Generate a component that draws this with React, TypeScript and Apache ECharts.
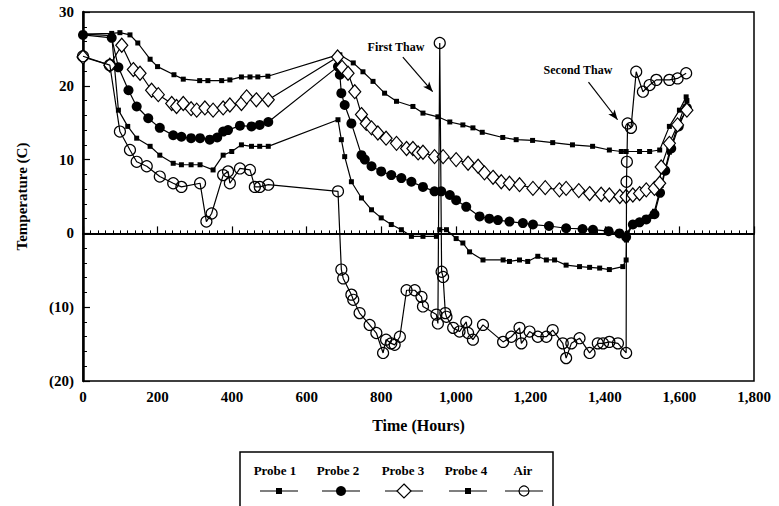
import React, { useEffect, useRef } from "react";
import * as echarts from "echarts";

// [hours, temperature C]
const probe1: number[][] = [
  [0, 27], [77, 27.1], [99, 27.2], [126, 26.9], [147, 25.8], [180, 23.6], [200, 22.6], [244, 21.5], [269, 20.9],
  [313, 20.7], [335, 20.7], [372, 20.7], [394, 20.8], [425, 21.2], [448, 21.2], [469, 21.2], [496, 21.3],
  [683, 24.2], [689, 24.2], [725, 23.1], [751, 21.9], [778, 20.6], [809, 19.0], [841, 17.9], [885, 17.2],
  [912, 16.3], [952, 15.8], [984, 15.1], [1019, 14.7], [1046, 14.3], [1071, 13.7], [1126, 13.0], [1162, 12.7],
  [1206, 12.6], [1260, 12.3], [1313, 12.0], [1367, 11.8], [1412, 11.3], [1444, 11.1], [1457, 11.1], [1493, 11.1],
  [1520, 11.1], [1547, 11.3], [1573, 14.5], [1600, 16.7], [1618, 18.5],
];

const probe2: number[][] = [
  [0, 26.9], [77, 26.5], [95, 22.5], [122, 19.4], [144, 17.2], [175, 15.6], [206, 14.3], [242, 13.3], [264, 13.1],
  [290, 12.9], [314, 12.9], [340, 12.7], [360, 13.0], [376, 13.8], [389, 14.0], [421, 14.6], [452, 14.5],
  [474, 14.7], [497, 15.1], [684, 22.6], [689, 21.5], [693, 19.0], [702, 17.4], [720, 14.9], [747, 10.6],
  [756, 10.0], [774, 9.1], [800, 8.4], [827, 7.9], [854, 7.5], [881, 7.0], [912, 6.3], [943, 5.7], [961, 5.7],
  [984, 5.2], [1001, 4.5], [1028, 3.6], [1064, 2.3], [1090, 2.0], [1113, 1.8], [1144, 1.6], [1180, 1.4],
  [1207, 1.2], [1250, 1.0], [1296, 0.7], [1340, 0.6], [1368, 0.5], [1410, 0.3], [1439, 0.0], [1457, -0.5],
  [1475, 1.2], [1493, 1.5], [1511, 1.9], [1533, 2.6], [1548, 5.5], [1562, 8.5], [1578, 11.5], [1598, 14.5],
  [1620, 17.0],
];

const probe3: number[][] = [
  [0, 23.9], [72, 22.8], [104, 25.5], [135, 22.2], [153, 21.7], [184, 19.4], [202, 18.8], [238, 17.6],
  [251, 17.2], [269, 17.6], [290, 16.9], [305, 16.7], [327, 17.0], [349, 16.7], [376, 17.0], [394, 17.4],
  [425, 17.6], [439, 18.5], [465, 18.1], [497, 18.1], [683, 23.9], [695, 22.5], [711, 21.7], [729, 19.2],
  [747, 16.1], [760, 14.9], [774, 14.3], [791, 13.6], [813, 12.9], [841, 12.2], [868, 11.5], [885, 11.5],
  [899, 10.9], [912, 11.0], [943, 10.4], [966, 10.4], [1001, 10.0], [1033, 9.5], [1060, 9.1], [1077, 8.2],
  [1100, 7.6], [1122, 7.0], [1144, 6.8], [1171, 6.6], [1207, 6.1], [1240, 6.2], [1278, 5.9], [1296, 6.1],
  [1330, 5.8], [1359, 5.4], [1390, 5.3], [1412, 5.2], [1440, 5.0], [1457, 5.0], [1475, 5.2], [1493, 5.4],
  [1511, 5.9], [1533, 6.1], [1547, 6.8], [1551, 9.0], [1573, 12.2], [1595, 14.7], [1620, 16.7],
];

const probe4: number[][] = [
  [0, 27], [77, 26.8], [95, 16.7], [120, 14.5], [144, 12.9], [180, 11.8], [206, 10.6], [242, 9.5], [264, 9.3],
  [290, 9.3], [314, 9.3], [349, 8.6], [376, 10.6], [399, 11.1], [425, 12.0], [452, 11.8], [474, 11.8],
  [497, 11.8], [684, 15.4], [693, 12.7], [702, 10.4], [720, 7.0], [747, 4.8], [774, 3.2], [800, 2.1],
  [827, 1.2], [854, 0.5], [881, -0.4], [912, -0.4], [948, -0.4], [957, 0.5], [975, 0.5], [1001, -0.7],
  [1019, -1.3], [1037, -2.5], [1073, -3.6], [1127, -3.6], [1144, -3.8], [1171, -3.6], [1193, -3.8],
  [1220, -3.1], [1243, -3.6], [1265, -3.6], [1296, -4.3], [1332, -4.5], [1359, -4.6], [1386, -4.7],
  [1412, -4.9], [1448, -4.5], [1457, -3.6], [1458, -0.9], [1460, 0], [1475, 1.4], [1493, 1.6], [1511, 1.8],
  [1524, 2.3], [1533, 3.0], [1551, 6.5], [1573, 11.0], [1598, 15.0], [1620, 18.0],
];

const air: number[][] = [
  [0, 24], [72, 22.8], [99, 13.8], [126, 11.3], [144, 9.7], [171, 9.1], [206, 7.7], [242, 6.8], [264, 6.3],
  [314, 6.8], [331, 1.6], [345, 2.7], [376, 7.9], [389, 8.4], [394, 6.8], [421, 8.8], [448, 8.6], [461, 6.3],
  [474, 6.3], [497, 6.6], [684, 5.7], [693, -4.9], [698, -6.1], [720, -8.3], [725, -9.0], [742, -10.8],
  [769, -12.4], [787, -13.5], [805, -16.2], [813, -14.4], [827, -14.9], [836, -15.1], [850, -14.0],
  [868, -7.7], [890, -7.7], [908, -8.6], [912, -9.9], [948, -11.0], [952, -12.2], [957, 25.8], [962, -5.2],
  [966, -5.9], [972, -10.8], [975, -11.3], [993, -12.8], [1010, -13.3], [1028, -12.0], [1033, -13.5],
  [1046, -14.4], [1073, -12.4], [1127, -14.7], [1149, -14.0], [1171, -12.8], [1176, -14.9], [1198, -13.3],
  [1220, -14.0], [1243, -14.0], [1260, -13.1], [1287, -14.9], [1296, -16.9], [1310, -14.9], [1332, -14.2],
  [1359, -16.2], [1381, -14.9], [1395, -14.9], [1412, -14.7], [1435, -14.9], [1457, -16.2], [1458, 7.0],
  [1459, 9.7], [1461, 14.9], [1470, 14.3], [1484, 21.9], [1502, 19.2], [1520, 20.1], [1538, 20.8],
  [1573, 20.8], [1595, 21.0], [1618, 21.7],
];

const seriesNames = ["Probe 1", "Probe 2", "Probe 3", "Probe 4", "Air"];
const xTicks = { min: 0, max: 1800, interval: 200 };
const yTicks = { min: -20, max: 30, interval: 10 };

const FONT = "'Liberation Serif', 'Times New Roman', serif";

export default function App() {
  const ref = useRef<HTMLDivElement>(null);

  useEffect(() => {
    const chart = echarts.init(ref.current!, null, { renderer: "svg" });
    const line = { color: "#000", width: 1.2 };
    const mk = (name: string, data: number[][], symbol: string, size: any, itemStyle: any, z: number) => ({
      type: "line",
      name,
      data,
      symbol,
      symbolSize: size,
      showAllSymbol: true,
      lineStyle: line,
      itemStyle,
      z,
      emphasis: { disabled: true },
    });

    const legendCenters = [279, 341, 404, 468, 524];
    const legendTextX = [275, 338, 403, 466, 523];
    const legendGraphics: any[] = [
      {
        type: "rect",
        shape: { x: 240, y: 452, width: 313, height: 70 },
        style: { fill: "none", stroke: "#000", lineWidth: 1.5 },
      },
    ];
    seriesNames.forEach((n, i) => {
      legendGraphics.push({
        type: "text",
        x: legendTextX[i],
        y: 470,
        style: { text: n, font: `bold 13px ${FONT}`, fill: "#000", align: "center", verticalAlign: "middle" },
      });
      const cx = legendCenters[i];
      legendGraphics.push({
        type: "line",
        shape: { x1: cx - 19, y1: 491, x2: cx + 19, y2: 491 },
        style: { stroke: "#000", lineWidth: 1.2 },
      });
      if (i === 0 || i === 3) {
        legendGraphics.push({ type: "rect", shape: { x: cx - 3, y: 488, width: 6, height: 6 }, style: { fill: "#000" } });
      } else if (i === 1) {
        legendGraphics.push({ type: "circle", shape: { cx, cy: 491, r: 5 }, style: { fill: "#000" } });
      } else if (i === 2) {
        legendGraphics.push({
          type: "polygon",
          shape: { points: [[cx, 484], [cx + 7, 491], [cx, 498], [cx - 7, 491]] },
          style: { fill: "#fff", stroke: "#000", lineWidth: 1.2 },
        });
      } else {
        legendGraphics.push({ type: "circle", shape: { cx, cy: 491, r: 5 }, style: { fill: "none", stroke: "#000", lineWidth: 1.2 } });
      }
    });

    chart.setOption({
      animation: false,
      backgroundColor: "#fff",
      grid: { left: 83, right: 25, top: 12, bottom: 125, show: true, borderColor: "#000", borderWidth: 1.5, backgroundColor: "transparent" },
      xAxis: {
        type: "value",
        min: xTicks.min,
        max: xTicks.max,
        interval: xTicks.interval,
        name: "Time (Hours)",
        nameLocation: "middle",
        nameGap: 36,
        nameTextStyle: { fontFamily: FONT, fontWeight: "bold", fontSize: 16, color: "#000" },
        axisLine: { lineStyle: { color: "#000", width: 2 } },
        axisTick: { inside: true, length: 7, lineStyle: { color: "#000", width: 1.2 } },
        minorTick: { show: true, splitNumber: 10, length: 3, lineStyle: { color: "#000", width: 1 } },
        splitLine: { show: false },
        axisLabel: {
          fontFamily: FONT, fontWeight: "bold", fontSize: 15, color: "#000", margin: 8,
          formatter: (v: number) => v.toLocaleString("en-US"),
        },
      },
      yAxis: {
        type: "value",
        min: yTicks.min,
        max: yTicks.max,
        interval: yTicks.interval,
        name: "Temperature (C)",
        nameLocation: "middle",
        nameGap: 54,
        nameTextStyle: { fontFamily: FONT, fontWeight: "bold", fontSize: 15, color: "#000" },
        axisLine: { lineStyle: { color: "#000", width: 2.5 } },
        axisTick: { inside: true, length: 7, lineStyle: { color: "#000", width: 1.2 } },
        minorTick: { show: true, splitNumber: 5, length: 4, lineStyle: { color: "#000", width: 1 } },
        splitLine: { show: false },
        axisLabel: {
          fontFamily: FONT, fontWeight: "bold", fontSize: 15, color: "#000", margin: 9,
          formatter: (v: number) => (v < 0 ? `(${-v})` : `${v}`),
        },
      },
      graphic: [
        ...legendGraphics,
        {
          type: "text", x: 396, y: 47,
          style: { text: "First Thaw", font: `bold 12px ${FONT}`, fill: "#000", align: "center", verticalAlign: "middle" },
        },
        {
          type: "text", x: 578, y: 70,
          style: { text: "Second Thaw", font: `bold 12px ${FONT}`, fill: "#000", align: "center", verticalAlign: "middle" },
        },
      ],
      series: [
        {
          ...mk(seriesNames[0], probe1, "rect", 5, { color: "#000" }, 3),
          markLine: {
            silent: true,
            symbol: ["none", "none"],
            label: { show: false },
            lineStyle: { color: "#000", width: 1.2, type: "solid" },
            data: [
              { yAxis: 0 },
              [
                { coord: [858, 23.9], symbol: "none" },
                { coord: [938, 19.2], symbol: "arrow", symbolSize: [6, 10] },
              ],
              [
                { coord: [1356, 20.5], symbol: "none" },
                { coord: [1434, 15.4], symbol: "arrow", symbolSize: [6, 10] },
              ],
            ],
          },
        },
        mk(seriesNames[1], probe2, "circle", 10, { color: "#000" }, 4),
        mk(seriesNames[2], probe3, "diamond", [12, 14], { color: "#fff", borderColor: "#000", borderWidth: 1.2 }, 5),
        mk(seriesNames[3], probe4, "rect", 5, { color: "#000" }, 3),
        mk(seriesNames[4], air, "circle", 11, { color: "rgba(0,0,0,0)", borderColor: "#000", borderWidth: 1.2 }, 6),
      ],
    });
    return () => chart.dispose();
  }, []);

  return <div ref={ref} style={{ position: "fixed", left: 0, top: 0, width: 779, height: 506 }} />;
}
